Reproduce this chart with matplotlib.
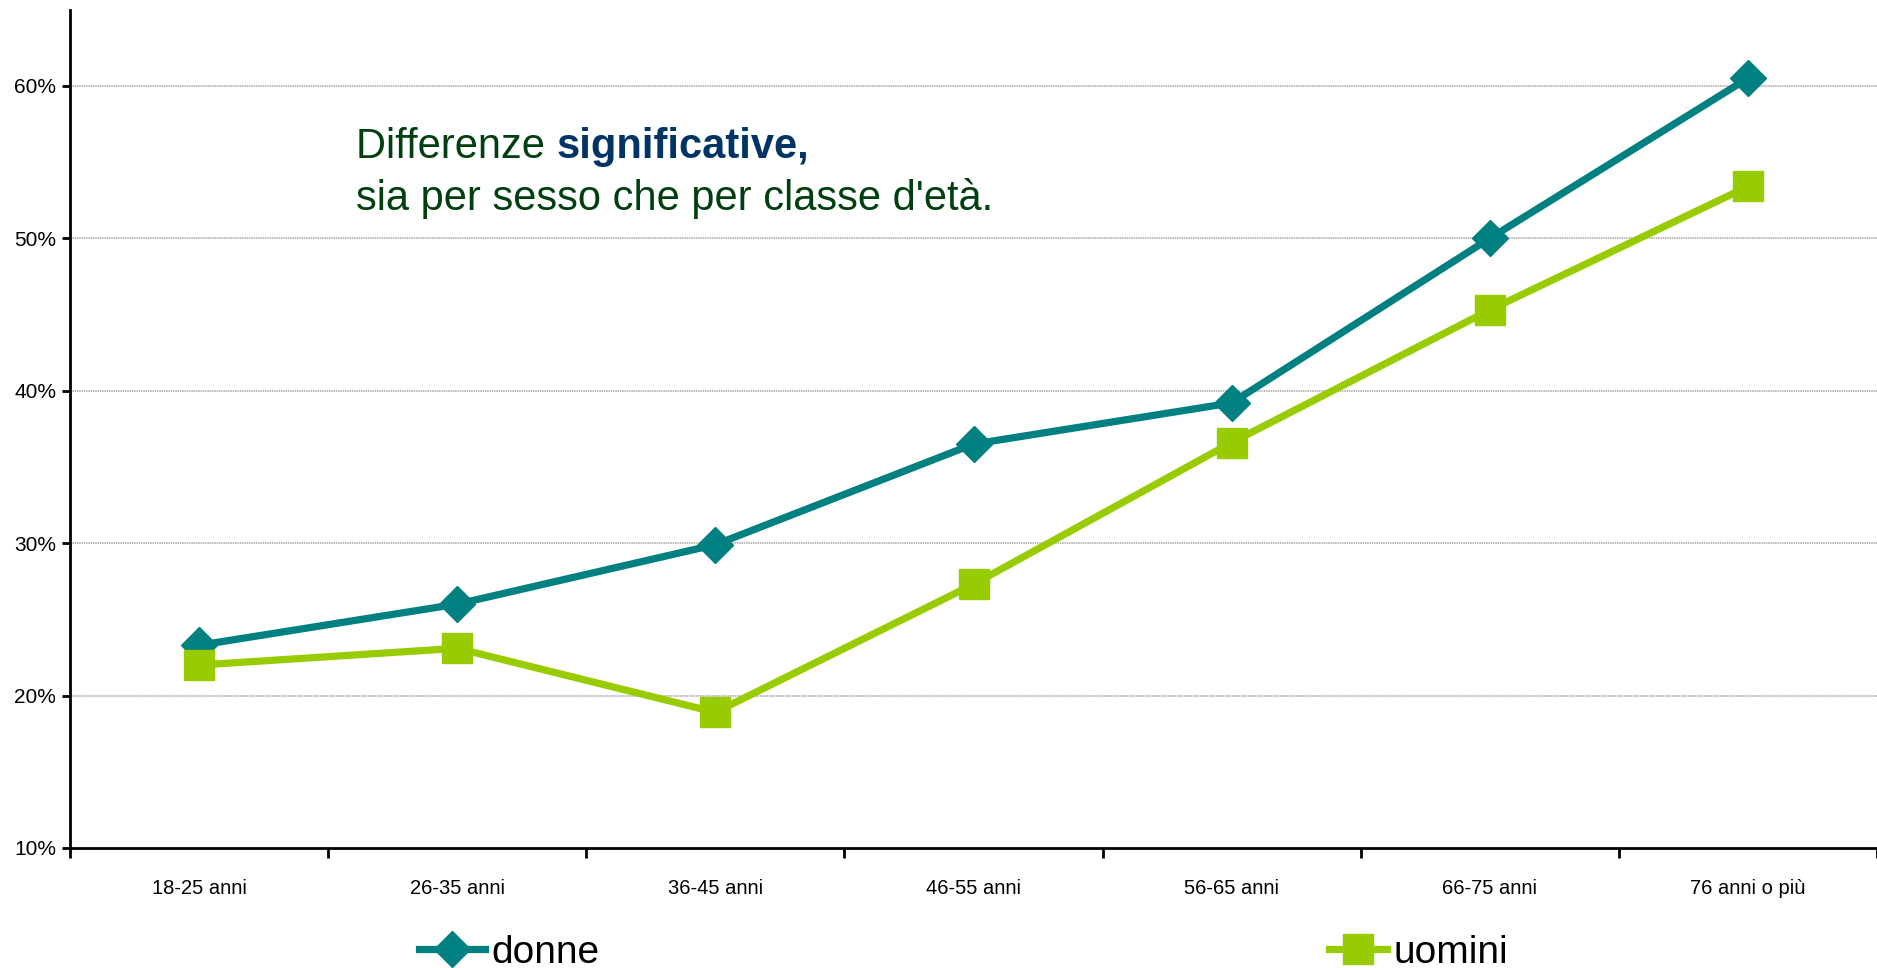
import matplotlib.pyplot as plt
from matplotlib.ticker import FuncFormatter

plt.rcParams['font.family'] = ['Liberation Sans', 'DejaVu Sans']

categorie = ["18-25 anni", "26-35 anni", "36-45 anni", "46-55 anni",
             "56-65 anni", "66-75 anni", "76 anni o più"]
donne = [23.3, 26.0, 29.9, 36.5, 39.2, 50.0, 60.5]
uomini = [22.0, 23.1, 18.9, 27.3, 36.6, 45.3, 53.4]
y_ticks = [10, 20, 30, 40, 50, 60]

teal = "#008080"
lime = "#99cc00"

fig = plt.figure(figsize=(18.77, 9.68), dpi=100)
ax = fig.add_axes([0.0373, 0.124, 0.9627, 0.866])

x = range(len(categorie))
l1, = ax.plot(x, donne, color=teal, lw=5.2, marker="D", ms=18,
              mec=teal, mfc=teal, label="donne", zorder=3)
l2, = ax.plot(x, uomini, color=lime, lw=5.2, marker="s", ms=21,
              mec=lime, mfc=lime, label="uomini", zorder=3)

ax.set_xlim(-0.5, 6.479)
ax.set_ylim(10, 65)
ax.set_yticks(y_ticks)
ax.yaxis.set_major_formatter(FuncFormatter(lambda v, p: "%d%%" % v))
ax.set_xticks([i + 0.5 for i in range(-1, 7)], minor=False)
ax.set_xticklabels([])
ax.set_xticks(list(x), minor=True)
ax.set_xticklabels(categorie, minor=True)
ax.tick_params(axis="x", which="minor", length=0, pad=22, labelsize=14.5)
ax.tick_params(axis="x", which="major", length=7, width=2, direction="out")
ax.tick_params(axis="y", length=6, width=2, labelsize=15, pad=4)

for v in y_ticks[1:]:
    ax.axhline(v, color="#a8a8a8", lw=1.1, ls=(0, (1, 0.5)), zorder=1)

for s in ["top", "right"]:
    ax.spines[s].set_visible(False)
for s in ["left", "bottom"]:
    ax.spines[s].set_linewidth(2)

x0 = 356 / 1877
fig.text(x0, 1 - 158 / 968, "Differenze ", color="#004010", fontsize=30,
         va="baseline", ha="left")
t = fig.text(x0, 1 - 158 / 968, "Differenze ", fontsize=30, alpha=0)
fig.canvas.draw()
bb = t.get_window_extent()
fig.text(bb.x1 / fig.bbox.width, 1 - 158 / 968, "significative,",
         color="#003366", fontsize=30, fontweight="bold", va="baseline", ha="left")
fig.text(x0, 1 - 210 / 968, "sia per sesso che per classe d'età.",
         color="#004010", fontsize=30, va="baseline", ha="left")

fig.legend(handles=[l1], loc="center left", bbox_to_anchor=(419 / 1877, 0.016),
           frameon=False, fontsize=28, handlelength=1.7, handletextpad=0.15,
           borderpad=0, borderaxespad=0)
fig.legend(handles=[l2], loc="center left", bbox_to_anchor=(1329 / 1877, 0.016),
           frameon=False, fontsize=28, handlelength=1.5, handletextpad=0.15,
           borderpad=0, borderaxespad=0)

fig.savefig("out.png", dpi=100)
